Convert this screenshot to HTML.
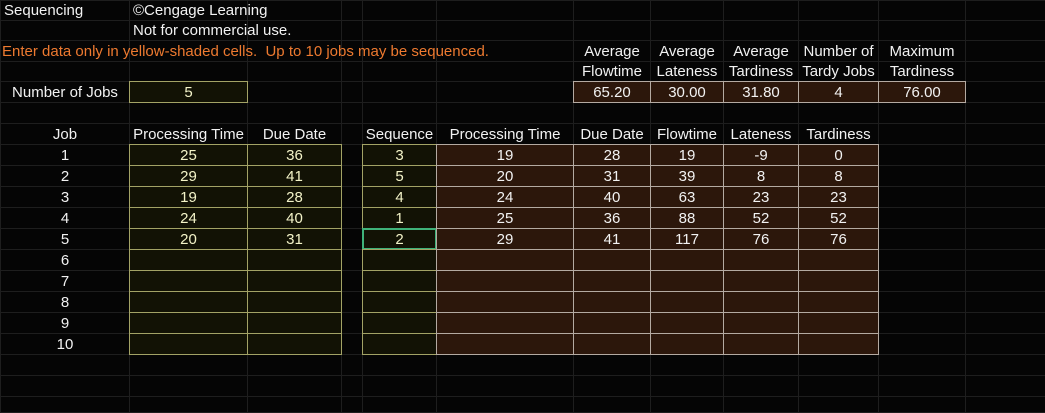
<!DOCTYPE html>
<html><head><meta charset="utf-8"><style>
body{margin:0;width:1045px;height:412px;background:#050505;overflow:hidden;font-family:"Liberation Sans",sans-serif;font-size:15px;color:#f2f2f2;position:relative}
.g{position:absolute;background:#1e1e1e}
.c{position:absolute;box-sizing:border-box;display:flex;align-items:center;justify-content:center;white-space:nowrap;line-height:1}
.y{background:#121205;border:1px solid #a3a366;color:#f3f3c8}
.b{background:#2c170b;border:1px solid #b4aaa2;color:#f2f2f2}
.l{justify-content:flex-start;padding-left:4px}
</style></head><body>
<script>
const colX=[0,129,247,341,362,436,573,650,723,798,878,965,1045];
const rowY=[0,20,40,61,81,102,123,144,165,186,207,228,249,270,291,312,333,354,375,396,412];
const jobs=[1,2,3,4,5,6,7,8,9,10];
const procTimes=[25,29,19,24,20];
const dueDates=[36,41,28,40,31];
const sequence=[3,5,4,1,2];
const seqProc=[19,20,24,25,29];
const seqDue=[28,31,40,36,41];
const flowtime=[19,39,63,88,117];
const lateness=[-9,8,23,52,76];
const tardiness=[0,8,23,52,76];
const summaryHead=[["Average","Flowtime"],["Average","Lateness"],["Average","Tardiness"],["Number of","Tardy Jobs"],["Maximum","Tardiness"]];
const summaryVals=["65.20","30.00","31.80","4","76.00"];
const B=document.body;
for(const x of colX){const d=document.createElement('div');d.className='g';d.style.cssText=`left:${x}px;top:0;width:1px;height:412px`;

B.appendChild(d);}
for(const y of rowY){const d=document.createElement('div');d.className='g';d.style.cssText=`left:0;top:${y}px;width:1045px;height:1px`;

B.appendChild(d);}
function cell(c0,c1,r0,r1,txt,cls,name,inter){const d=document.createElement('div');d.className='c '+(cls||'');
d.style.left=colX[c0]+'px';d.style.top=rowY[r0]+'px';d.style.width=(colX[c1]-colX[c0]+1)+'px';d.style.height=(rowY[r1]-rowY[r0]+1)+'px';d.innerHTML=txt;

B.appendChild(d);return d;}
cell(0,1,0,1,'Sequencing','l','title-label');
cell(1,3,0,1,'©Cengage Learning','l','copyright-note');
cell(1,3,1,2,'Not for commercial use.','l','license-note');
const o=cell(0,6,2,3,'Enter data only in yellow-shaded cells.&nbsp; Up to 10 jobs may be sequenced.','l','instructions');o.style.color='#ee7a30';o.style.paddingLeft='2px';
cell(0,1,4,5,'Number of Jobs','','number-of-jobs-label');
cell(1,2,4,5,'5','y','number-of-jobs-input',true);
summaryHead.forEach((h,i)=>{cell(6+i,7+i,2,3,h[0],'','summary-header-'+i);cell(6+i,7+i,3,4,h[1],'','summary-header-'+i+'-line2');});
summaryVals.forEach((v,i)=>cell(6+i,7+i,4,5,v,'b','summary-value-'+i));
const heads=[[0,'Job'],[1,'Processing Time'],[2,'Due Date'],[4,'Sequence'],[5,'Processing Time'],[6,'Due Date'],[7,'Flowtime'],[8,'Lateness'],[9,'Tardiness']];
heads.forEach(([c,t])=>cell(c,c+1,6,7,t,'','header-'+t.toLowerCase().replace(/ /g,'-')));
jobs.forEach((j,i)=>{const r=7+i;
cell(0,1,r,r+1,j,'','job-number');
cell(1,2,r,r+1,procTimes[i]??'','y','processing-time-input',true);
cell(2,3,r,r+1,dueDates[i]??'','y','due-date-input',true);
const s=cell(4,5,r,r+1,sequence[i]??'','y','sequence-input',true);
if(i==4){s.style.border='2px solid #3fb27a';}
cell(5,6,r,r+1,seqProc[i]??'','b','seq-processing-time');
cell(6,7,r,r+1,seqDue[i]??'','b','seq-due-date');
cell(7,8,r,r+1,flowtime[i]??'','b','flowtime');
cell(8,9,r,r+1,lateness[i]??'','b','lateness');
cell(9,10,r,r+1,tardiness[i]??'','b','tardiness');
});
</script>
</body></html>
